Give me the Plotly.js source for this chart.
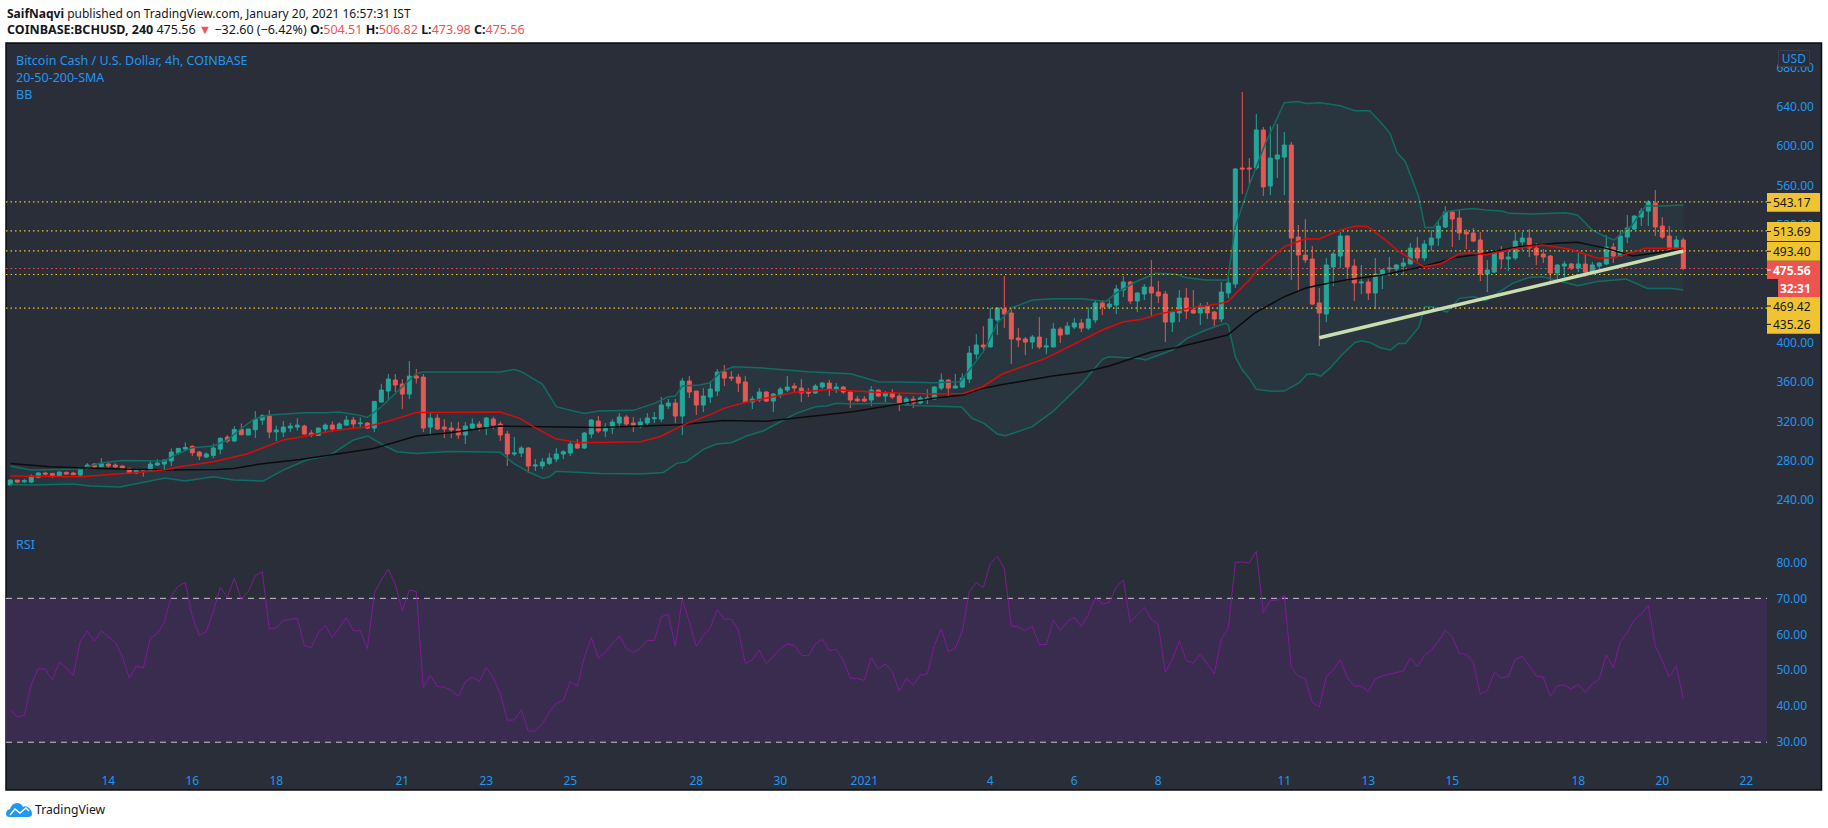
<!DOCTYPE html>
<html><head><meta charset="utf-8">
<script src="https://cdn.plot.ly/plotly-3.0.1.min.js"></script>
<style>html,body{margin:0;padding:0;background:#fff}#c{width:1828px;height:828px}</style>
</head><body><div id="c"></div>
<script>
// 4-hour candles, IST clock, first bar Dec 11 2020 17:30
const opens=[255.5,260.5,258.8,258.5,263.3,267.7,267.3,264.6,268.3,267.7,265.6,272.8,276.8,274.1,276.8,275.8,274.8,272.4,267.7,271.1,269.7,275.8,276.8,279.9,288,292,294.8,289,283.9,285.6,292,304.2,300.2,312,306.3,311.7,321.5,325.6,309.6,309.3,313.4,314.4,315.4,308.3,305.9,312.4,316.4,312.4,316.4,321.5,317.8,318.5,313.4,339.8,351,362.2,358.1,347.9,366.2,365.2,314.4,323.5,314.4,313.4,312.4,306.3,313.4,317.5,314.4,322.5,
317.5,307.3,287,288,293.1,274.8,274.8,277.5,281.9,287,288,297.1,293.1,307.3,320.5,310.4,313.4,318.5,324.6,318.5,315.4,318.5,322.9,322.5,335.8,338.8,325.6,361.2,351,336.8,344.9,351,370.3,365.2,365.2,360.2,339.8,341.9,350,340.8,346.9,352,356.1,354,350,349,355.1,359.1,353,355.1,350,342.9,342.9,341.9,352,345.9,349,345.9,336.8,342.9,338.8,343.2,342.9,
354,362.2,354,355.1,363.2,388.6,397.8,395.8,423.2,434.4,430.3,404.9,403.9,400.8,405.9,395.8,395.8,414,408.9,416,420.1,415,423.2,440.5,436.4,438.4,453.7,461.8,442.5,449.6,456.7,451.6,449.6,421.1,430.3,445.5,433.3,430.3,437.4,431.3,424.2,450.6,459.8,577.7,577.7,577.7,616.3,559.4,586.8,588.8,601,507.5,489.2,485.2,440.5,429.3,477.1,
488.2,508.5,478,460.8,461.8,450.6,468.9,475,475,478,480.1,496.3,486.2,499.4,506.5,517.7,532.9,526.8,512.6,511.6,504.5,469.9,471.9,492.3,485.2,486.2,502.4,506.5,496.3,490.2,488.2,470.9,478,480.1,476,480.1,471.9,478,480.1,497.3,488.2,507.5,515.6,527.8,533.9,542,518.7,508.5,495.3,504.51];
const highs=[261.5,260.5,261.5,266.3,268.7,269,267.3,269,269.4,269,273.7,277.8,277.8,282.9,278.2,277.5,275.5,273.1,272.4,271.4,279.8,281.9,281.2,292.7,293.1,298.8,295.8,290,288.7,297.5,304.2,306.3,315.4,318.1,312.4,330.7,327.6,331.7,315.8,320.5,318.5,323.2,316.8,311.4,313.7,318.1,320.2,319.5,325.9,324.6,324.2,319.5,340.5,358.4,368.3,368.3,363.2,381.5,373.4,368.3,328.6,327.6,322.5,319.5,319.5,319.5,323.2,320.5,324.6,324.9,
320,310.4,304.3,295.1,293.8,281.9,282.9,288,293.1,291,299.2,302.2,309.3,322.6,325.6,318.5,322.5,328.6,326.6,324.6,323.6,328.6,329.7,344.9,342.9,342.9,364.2,366.2,351,354,361,373.4,377.4,371.3,368.3,366.2,345.9,354,351,349,355.1,366.2,359.1,363.2,354,358.1,360.2,362.2,359.1,356.1,352,345.9,345.9,356.1,353,351,353,348,344.9,345.9,345.9,353,356.1,
369,363,368.3,369,396.8,408.9,417,435.4,435.4,467.9,435.4,415.1,405.9,407.9,426.2,404.9,420.1,416,421.1,425.2,424.2,436,443.5,443.5,443.5,458.8,467.9,462.8,451.6,459.8,484.2,462.8,452.7,432.3,453.7,455.7,453.7,440.5,441.5,432.3,461.8,467,577.7,654.9,587.8,632.5,619.3,620.3,622.4,614.2,604.1,519.7,525.8,498.4,455.7,486.2,492.3,
512.6,509.5,485.2,479.1,464.8,486.2,475,487.2,480.1,486.2,501.4,507.5,504.5,514.6,522.8,539,533.9,534.9,515.6,516.7,512.6,484.1,491.2,498.4,496.3,512.6,512.6,515.6,501.4,495.3,489.2,480.1,483.1,481.1,491.2,490.2,482.1,482.1,509.5,501.4,514.6,529.9,529.9,537,545.1,555.3,527.8,518.7,508.5,506.82];
const lows=[255.1,257.5,257.5,257.5,262.6,264.9,262.6,263.9,266.3,265.6,264.9,271.7,272.1,273.8,273.1,272.1,271.1,267.3,266.6,264,269.4,274.8,270,274.8,286.3,290.4,284.9,280.9,282.9,282.9,287,298.5,299.5,306.3,306.3,303.2,316.4,303.2,300.2,304.2,309.3,310.7,306.6,304.2,305.3,308.3,309.7,311.7,315.4,313.1,314.4,312.4,309.3,339.5,341.2,350,332.7,342.9,358.8,309.3,306.3,311.4,303.2,303.2,302.2,297.1,311.4,310.3,306.3,312.4,
300.5,274.8,285,283.9,267.7,269.7,271.7,275.8,278.8,281.9,284.9,292,292,303.2,308.3,304.2,307.3,313.4,314.4,309.3,313.4,315.4,318.5,319.5,332.7,318.5,306.3,343.9,326.6,329.7,339,345.9,356.1,361.2,350,338.8,332.7,339.8,339.8,329.7,343.9,350,350,339.8,344.9,348,353,345.9,349,348,333.7,339.8,339.8,335.8,344.9,339.8,342.9,330.7,336.8,333.7,337.8,337.8,342.9,
352,345,354,354,359.1,383.2,392.7,395.8,407.9,415.1,378.5,395.8,387.6,393.7,393.7,388.6,395.8,399.8,408,414,411,413,420.1,428.3,436.4,429.3,446.6,439.4,431.3,443.5,426.2,440.5,400.8,411,421.1,424.2,429.3,418.1,424.2,417.1,421.1,445.5,455.7,551.2,561.4,575.6,549.2,550.2,567.5,550.2,463.8,451.6,481.1,438.4,396.8,421.1,457.7,
476,462.8,442.5,449.6,443.5,434.3,454.7,467.9,467.9,468.9,480.1,483.1,483.1,493.3,498.4,516.7,497.4,504.5,495.3,502.4,462.8,451.6,470.9,476,472.9,484.1,494.3,487.2,479.1,481.1,462.8,464.8,466.9,474,471.9,466.9,469.9,475,479.1,481.1,487.2,501.4,514.6,518.7,518.7,508.5,505.5,494.3,494.3,473.98];
const closes=[260.5,258.5,259.9,264.6,267.7,266.6,264.3,268.7,266.6,266,273.4,275.8,273.8,277.1,274.8,274.1,272.1,267.7,270.4,270,276.8,277.8,280.9,289,292.7,293.7,288.3,284.9,287,293.1,302.9,300.2,312,306.6,312.4,322.2,325.9,309.3,311.4,314.4,315.4,316.4,307.3,306.3,313.4,316.4,312.4,317.5,321.5,317.5,318.5,313.4,340.5,352,363.2,357.1,347.9,366.2,364.2,313.4,323.5,312.4,312.4,311.4,306.3,315.4,317.5,314.4,323.5,316.4,
306.3,287,288,293.1,274.8,275.8,278.8,282.9,287,289.3,297.1,293.1,308.3,321.5,310.4,314.4,319.5,324.6,317.5,316.4,319.5,323.6,323.9,336.8,338.8,325.6,361.2,350,336.8,345.9,353,370.3,364.2,364.2,359.1,339.8,342.9,350,340.8,348,353,355.1,354,349,349,356.1,359.1,353,355.1,350,341.9,341.2,340.8,352,345.9,349,344.9,337.8,342.9,338.8,343.9,343.9,355.1,
362.2,354,356.1,364.2,389.6,397.8,395.8,424.2,435.4,429.3,403.9,402.9,400.8,405.9,395.8,396.8,414,407.9,417,420.1,415,424.2,440.5,436.4,439.4,454.7,461.8,442.5,450.6,456.7,450.6,447.6,421.1,431.3,445.5,432.3,430.3,437.4,430.3,424.2,451.6,460.8,576.7,576.7,576.7,616.3,558.4,587.8,590.9,601,506.5,489.2,484.2,439.4,430.3,479.1,490.3,
508.5,477,460.8,461.8,450.6,469.9,474,476,479.1,481.1,496.3,486.2,500.4,506.5,518.7,532.9,525.8,511.6,510.6,503.4,469.9,474,491.2,485.2,487.2,503.4,506.5,496.3,489.2,487.2,470.9,479.1,480.1,476,480.1,471.9,479.1,481.1,497.3,488.2,508.5,516.7,528.8,533.9,543,517.7,507.5,495.3,504.5,475.56];

// Bollinger bands, SMAs: readings along the curves, position in bars since the first bar
const bbUpperBars=[0,3,10,13,16,22,24,26,29,31,33,35,37,42,45,47,50,51,53,55,57,58,59,70,72,73,76,78,79.5,82,84,89,92,94,95,96,98.5,100,101.5,103.3,107,114,120,124,127,132,135.7,137,139,140,141,143.1,146,148.9,153.1,156.5,157.9,160.8,163.6,166.5,167.9,170.8,173.9,175,177,179.3,182,183.9,185.2,187.1,190,192.1,194.2,195.7,197.1,198.1,199.3,201.2,202.1,203.3,205,207.4,208.9,210.8,213.1,214.1,217.4,222.2,223.9,226,227.9,229.1,230.3,231.7,233.6,235.5,239];
const bbUpper=[274.8,270.7,271.7,278.2,280.5,279.9,287.6,293.4,295.1,301.2,313,323.2,326.6,329,329,329.7,326.3,324.2,335,348.6,362.2,369,370.3,370.3,373,370.7,358.1,335.1,332.4,328.3,330.7,331.4,338.5,345.2,345.9,356.1,357.1,359.5,370.7,375.7,374.7,370.7,368.6,360.5,360.2,359.5,360.5,372.3,391,405,420,435.7,443.5,444.9,444.9,442.1,450.3,462.1,470.6,469.6,466.5,463.8,463.8,518,560.4,602.7,644.1,645.3,643.3,644,641,635.9,635.9,624.7,612.9,593.2,584,548.5,517.3,517.3,533.2,535.6,536.6,534.9,533.9,531.6,530.9,532.2,529.9,514.6,507.8,504.5,511.2,519.7,539,539,540];
const bbLowerBars=[0,3.3,9,11.4,15.7,19,22.1,25,29,31.9,36.1,39,42.3,45.7,49,51.1,53.3,55.2,58,62.8,70,71.9,74,76.1,77,78,84.2,90,93.3,95.2,96.6,99,100.9,103,105.2,107.6,110.4,112.3,115,116.6,118,120,125.2,129,135.9,137.4,139.1,141,142.2,146,148.9,153.1,156,156.9,161.2,162.2,166,168.1,170.8,173.6,174,175,176,177,178,180.3,182,182.8,184.2,185.2,186.2,187.2,188.5,190.2,192.1,193,194.2,195.7,197.2,198.3,199.3,201.2,202.1,203.3,205.2,207,209.1,210.8,213.1,214.6,217,218.9,220.8,223.9,226.5,230.8,233.9,237.4,239];
const bbLower=[256.1,255.5,256.5,254.4,253.4,258.2,262.6,259.5,263.9,260.5,259.5,270.7,280.9,286,301.2,305.3,296.1,289.3,287.6,289.7,288.7,277.5,269,262.2,263.9,269.4,267.3,266.6,268.3,277.5,279.2,291.7,297.1,298.5,305.3,310.7,320.9,328.3,335.1,335.8,338.5,337.8,338.5,336.4,334.7,323.3,318.2,307.3,305.6,314.8,330,358.8,383.2,385.9,384.2,382.5,392.7,404.6,413,419.8,418,385.9,372.4,363.9,352.7,350.7,351,354.4,359.8,367.9,368.6,366.2,374,387.6,400.4,402.1,400.4,395,392.7,399.4,399.4,415.7,436.7,436.7,431.3,445.2,446.9,442.8,453,460.4,466.5,467.2,463.8,458,462.1,464.8,455.3,455.3,453.6];
const sma20Bars=[0,5.7,10,17.6,21.9,24.2,29,33.8,39,42.3,46.1,50.9,54.2,58,70,72.8,74.7,78,81.4,90,92.8,96.1,100.4,101.9,105.2,109,111.9,117.1,120.4,124.2,131.9,136.1,138.9,141.7,147.9,153.1,156,159,161.7,164,168.8,172.2,173.9,177,178.2,182,185,187,190,192.2,193.9,196.7,198.4,201.9,204.3,206.9,208.4,210.8,214.6,218.9,222.7,226.9,229.3,233.6,239];
const sma20=[264.6,263.9,263.9,268,270.7,274.1,279.2,287,301.2,305.3,310.7,314.7,320.8,329.3,329.7,323.2,314.8,302.2,298.5,299.5,304.6,316.4,328.3,333.4,339.8,345.2,349.6,352.7,351.3,349.6,348,348.6,355.4,368.3,384.2,402.9,413,421.5,423.9,429.3,435.7,439.1,441.8,463.8,474,497.7,505.8,505.5,514.6,518.7,518.3,502.8,492.6,477.4,480.1,490.2,491.6,489.2,495.3,499.4,495.3,485.8,486.8,496,496];
const sma200Bars=[0,5.7,12.8,21.9,29.5,31.9,35.7,41.4,45.7,51.9,58,62.8,70,84.2,95.6,101.9,108,112.8,120.4,127,131.9,136.1,138.9,141.9,145,148.9,153.6,157,163.1,166.5,173.9,177.7,182,185,187,190.8,196,201.7,206.5,209.8,215.5,220.8,223.9,228,231.8,239];
const sma200=[277.5,274.1,272.4,270.7,271.4,272.4,276.8,281.5,286,292.7,305.3,308.6,315.4,314,316.8,321.2,320.2,324.2,330,337.8,343.6,346.9,353.7,357.8,361.5,366.3,370.7,376.4,391,395,407.9,430,446.9,455.4,458.7,463.8,468.9,477.4,486.8,489.9,497.7,501.1,502.1,496,488.2,495];
const rsi=[39,37,37.5,46.1,50.5,50.3,47.3,52.2,50.7,48.6,58.1,60.9,58.1,61,59.3,57.8,53.8,47.8,51.2,50.6,58.9,60.2,63.3,70.7,73.4,74.4,64.9,59.6,60.8,66.3,73.1,70.2,75.6,69.7,71.9,76.3,77.4,61.5,61.8,63.9,64.1,64.6,56.8,56.3,60.5,62.4,59.1,61.9,64.6,61,61,56,71.4,75.1,78.2,73.9,66.6,72.3,71.9,45.2,48.7,45.5,45.3,44.5,42.7,46.8,48.1,46.9,50.8,47.8,43.6,36.1,36.2,39,33.1,33.1,35.1,38.4,40.8,41.6,46.9,45.5,53.6,59.2,53.4,55.1,57.3,59.6,56.1,54.9,56.1,58.3,58.3,64.9,65.6,56.6,69.7,63.5,56.6,59.6,61.8,66.9,64.2,64.2,61.2,51.9,52.9,55.6,51.8,54,56,57.3,56.9,54.2,54,57.3,58.6,55.5,55.8,52.7,47.8,47.7,47.2,53.6,50.3,51.8,49.6,44.2,47.7,45.9,48.7,49,56.9,61.5,55.2,56.1,60.9,71.9,74.3,73,79.7,81.7,78.3,62.3,62.1,61,62.3,57.2,57.1,63.9,61.1,63.6,64.7,62.2,65.4,70.3,68.4,68.9,73.2,75.1,63.3,65.4,67.5,64.2,62.7,49.4,53.1,58.2,52.7,52.1,54.4,51.8,49.1,58.7,61.6,80,80.1,79.8,83.1,66,69.4,69.5,70.8,50.8,48.4,47.6,41.1,39.8,48.2,50.1,52.9,48,45.6,45.6,44.1,47.6,48.4,48.9,49.4,49.8,53.4,51,54,55.6,58,61.1,59.3,54.7,54.4,52.2,43.3,44.4,49.4,47.9,48.3,53.1,53.9,51,48.4,48.1,42.7,45.7,45.9,44.8,46.1,43.8,46.2,47.6,54.3,50.7,58,60.5,64,65.6,68,56.8,52.7,48.1,51.2,42.1];
const trendBars=[187,239];
const trendValues=[405.2,493.3];
const levels=[543.17,513.69,493.40,469.42,435.26];
const lastPrice=475.56;
const priceTicks=[240,280,320,360,400,520,560,600,640,680];
const rsiTicks=[30,40,50,60,70,80];
const rsiBounds=[30,70];
const dayTicks=['2020-12-14','2020-12-16','2020-12-18','2020-12-21','2020-12-23','2020-12-25','2020-12-28','2020-12-30','2021-01-01','2021-01-04','2021-01-06','2021-01-08','2021-01-11','2021-01-13','2021-01-15','2021-01-18','2021-01-20','2021-01-22'];
const dayLabels=['14','16','18','21','23','25','28','30','2021','4','6','8','11','13','15','18','20','22'];

const START=Date.UTC(2020,11,11,17,30);
const barTime=k=>new Date(START+k*4*3600e3).toISOString().slice(0,19).replace('T',' ');
const times=opens.map((_,k)=>barTime(k));
const X0='2020-12-11 15:02', X1='2021-01-22 13:20';

const BLUE='#2196f3', INK='#131722';
const L=6,T=43,W=1761,H=719;
const xp=p=>(p-L)/W, yp=p=>1-(p-T)/H;
const FONT='"Noto Sans", sans-serif';

const traces=[
 {type:'scatter',mode:'lines',x:bbUpperBars.map(barTime),y:bbUpper,line:{color:'#0f6e64',width:1.5},hoverinfo:'skip'},
 {type:'scatter',mode:'lines',x:bbLowerBars.map(barTime),y:bbLower,line:{color:'#0f6e64',width:1.5},fill:'tonexty',fillcolor:'rgba(38,166,154,0.07)',hoverinfo:'skip'},
 ...levels.map(v=>({type:'scatter',mode:'lines',x:[X0,X1],y:[v,v],line:{color:'#f0c330',width:1.2,dash:'1.5px,3px'},hoverinfo:'skip'})),
 {type:'scatter',mode:'lines',x:[X0,X1],y:[lastPrice,lastPrice],line:{color:'#ef5350',width:1.2,dash:'1.5px,3px'},hoverinfo:'skip'},
 {type:'candlestick',x:times,open:opens,high:highs,low:lows,close:closes,whiskerwidth:0,
  increasing:{line:{color:'#26a69a',width:1},fillcolor:'#26a69a'},
  decreasing:{line:{color:'#ef5350',width:1},fillcolor:'#ef5350'}},
 {type:'scatter',mode:'lines',x:sma200Bars.map(barTime),y:sma200,line:{color:'#0c0c0e',width:1.5},hoverinfo:'skip'},
 {type:'scatter',mode:'lines',x:sma20Bars.map(barTime),y:sma20,line:{color:'#dc0a0a',width:1.5},hoverinfo:'skip'},
 {type:'scatter',mode:'lines',x:trendBars.map(barTime),y:trendValues,line:{color:'#c8deb0',width:3.5},hoverinfo:'skip'},
 ...rsiBounds.map(v=>({type:'scatter',mode:'lines',xaxis:'x',yaxis:'y2',x:[X0,X1],y:[v,v],line:{color:'#c9c4d2',width:1,dash:'6px,5px'},hoverinfo:'skip'})),
 {type:'scatter',mode:'lines',xaxis:'x',yaxis:'y2',x:times,y:rsi,line:{color:'#7f1a96',width:1},hoverinfo:'skip'}
];

const note=(text,px,py,opt={})=>Object.assign({text,xref:'paper',yref:'paper',x:xp(px),y:yp(py),xanchor:'left',yanchor:'middle',showarrow:false,font:{family:FONT,size:12.5,color:BLUE}},opt);
const box=(x0,x1,y0,y1,c)=>({type:'rect',xref:'paper',yref:'paper',x0:xp(x0),x1:xp(x1),y0:yp(y1),y1:yp(y0),fillcolor:c,line:{width:0},layer:'above'});
const dash=(py,c)=>({type:'line',xref:'paper',yref:'paper',x0:xp(1767),x1:xp(1771),y0:yp(py),y1:yp(py),line:{color:c,width:1},layer:'above'});
const P=(cmds)=>cmds.map(c=>typeof c==='string'?c:xp(c[0])+','+yp(c[1])).join(' ');

const priceTags=[
 ['543.17',193,211.7,'#f0c330',INK],
 ['513.69',222,241,'#f0c330',INK],
 ['493.40',242,260.7,'#f0c330',INK],
 ['<b>475.56</b>',261,279,'#ef5350','#fff'],
 ['469.42',297,315,'#f0c330',INK],
 ['435.26',315,333.7,'#f0c330',INK]];

const shapes=[
 {type:'rect',xref:'paper',yref:'paper',x0:0,x1:xp(1821.5),y0:yp(790),y1:1,fillcolor:'#2a2e39',line:{color:'#0b0c10',width:1.5},layer:'below'},
 {type:'rect',xref:'paper',yref:'y2',x0:0,x1:1,y0:rsiBounds[0],y1:rsiBounds[1],fillcolor:'#392c4e',line:{width:0},layer:'below'},
 ...priceTags.map(t=>box(1767,1820,t[1],t[2],t[3])),
 box(1778,1820,279,297,'#ef5350'),
 ...priceTags.map(t=>dash((t[1]+t[2])/2,t[4]==='#fff'?'#fff':INK)),
 {type:'path',xref:'paper',yref:'paper',layer:'above',fillcolor:'#2196f3',line:{width:0},
  path:P(['M',[6,814],'Q',[6,810],[10,809],'Q',[12,803],[17,803],'Q',[21,803],[23,807],'Q',[26,805],[29,808],'Q',[32,810],[32,814],'Q',[32,817],[28,817],'L',[10,817],'Q',[6,817],[6,814],'Z'])},
 {type:'path',xref:'paper',yref:'paper',layer:'above',line:{color:'#fff',width:1.5},
  path:P(['M',[10,815],'L',[15,809],'L',[20,813],'L',[26,808],'L',[29,811]])}
];

const red=s=>`<span style="color:#ef5350">${s}</span>`;
const annotations=[
 note('<b>SaifNaqvi</b> published on TradingView.com, January 20, 2021 16:57:31 IST',5,13,{font:{family:FONT,size:12,color:INK}}),
 note(`<b>COINBASE:BCHUSD, 240</b> 475.56 ${red('▼')} −32.60 (−6.42%) <b>O:</b>${red('504.51')} <b>H:</b>${red('506.82')} <b>L:</b>${red('473.98')} <b>C:</b>${red('475.56')}`,5,29.5,{font:{family:FONT,size:12.5,color:INK}}),
 note('Bitcoin Cash / U.S. Dollar, 4h, COINBASE',13.5,60.3),
 note('20-50-200-SMA',13.5,77.7),
 note('BB',13.5,95),
 note('RSI',13.5,544),
 note('TradingView',33,809.5,{font:{family:FONT,size:12.2,color:INK}}),
 note('USD',1794,58.5,{xanchor:'center',width:30,height:15,bgcolor:'#2a2e39',bordercolor:'#3a3e49',borderwidth:1,borderpad:0,font:{family:FONT,size:12,color:BLUE}}),
 ...priceTags.map(t=>note(t[0],1813,(t[1]+t[2])/2,{xanchor:'right',font:{family:FONT,size:12,color:t[4]}})),
 note('<b>32:31</b>',1813,288,{xanchor:'right',font:{family:FONT,size:12,color:'#fff'}})
];

const layout={
 width:1828,height:828,margin:{l:L,r:1828-L-W,t:T,b:828-T-H,pad:0},
 paper_bgcolor:'#fff',plot_bgcolor:'rgba(0,0,0,0)',showlegend:false,hovermode:false,dragmode:false,boxgap:0.43,boxgroupgap:0,
 font:{family:FONT,size:12,color:BLUE},
 xaxis:{type:'date',range:[X0,X1],anchor:'y2',rangeslider:{visible:false},showgrid:false,zeroline:false,showline:false,
  tickmode:'array',tickvals:dayTicks.map(d=>d+' 01:30'),ticktext:dayLabels,ticks:'outside',ticklen:8,tickcolor:'rgba(0,0,0,0)',tickfont:{family:FONT,size:12,color:BLUE},fixedrange:true},
 yaxis:{domain:[1-(530-T)/H,1],side:'right',anchor:'x',range:[209.8,704.7],showgrid:false,zeroline:false,showline:false,
  tickmode:'array',tickvals:priceTicks,ticktext:priceTicks.map(v=>v.toFixed(2)),ticks:'outside',ticklen:6,tickcolor:'rgba(0,0,0,0)',tickfont:{family:FONT,size:12,color:BLUE},fixedrange:true},
 yaxis2:{domain:[0,1-(530-T)/H],side:'right',anchor:'x',range:[24.5,89],showgrid:false,zeroline:false,showline:false,
  tickmode:'array',tickvals:rsiTicks,ticktext:rsiTicks.map(v=>v.toFixed(2)),ticks:'outside',ticklen:6,tickcolor:'rgba(0,0,0,0)',tickfont:{family:FONT,size:12,color:BLUE},fixedrange:true},
 shapes,annotations
};
Plotly.newPlot('c',traces,layout,{displayModeBar:false,staticPlot:true});
</script></body></html>
